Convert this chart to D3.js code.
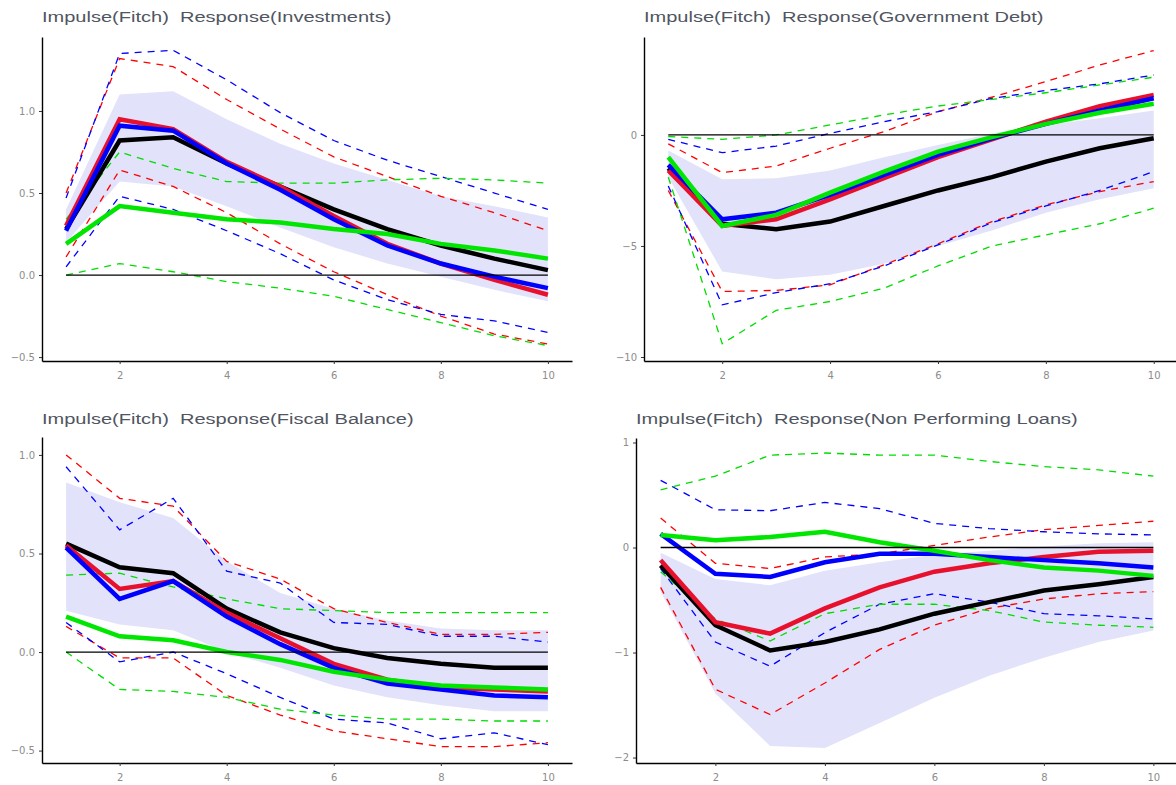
<!DOCTYPE html>
<html>
<head>
<meta charset="utf-8">
<script src="https://cdn.jsdelivr.net/npm/d3@7/dist/d3.min.js"></script>
<style>
  body { margin: 0; background: #fff; }
  svg { display: block; }
  .title { font-family: "Liberation Sans", Arial, sans-serif; font-size: 14px; fill: #50555f; white-space: pre; }
  .axis text { font-family: "DejaVu Sans", sans-serif; font-size: 10px; fill: #8c8c8c; }
  .axis path.domain { stroke: #000; stroke-width: 1.4; }
  .axis line { stroke: #333; stroke-width: 1; }
</style>
</head>
<body>
<div id="chart"></div>
<script>

// horizon (periods after the shock)
var horizon = [1, 2, 3, 4, 5, 6, 7, 8, 9, 10];
var xTicks  = [2, 4, 6, 8, 10];

// --- Investments
var invBlack   = [0.28, 0.82, 0.84, 0.68, 0.54, 0.40, 0.28, 0.18, 0.10, 0.03];
var invRed     = [0.30, 0.95, 0.89, 0.69, 0.54, 0.36, 0.19, 0.07, -0.03, -0.12];
var invBlue    = [0.27, 0.91, 0.88, 0.68, 0.52, 0.34, 0.18, 0.07, -0.01, -0.08];
var invGreen   = [0.19, 0.42, 0.38, 0.34, 0.32, 0.28, 0.25, 0.19, 0.15, 0.10];
var invBandHi  = [0.40, 1.10, 1.12, 0.95, 0.80, 0.68, 0.58, 0.48, 0.42, 0.35];
var invBandLo  = [0.20, 0.57, 0.54, 0.42, 0.29, 0.17, 0.07, -0.01, -0.09, -0.16];
var invRedHi   = [0.50, 1.32, 1.27, 1.07, 0.89, 0.72, 0.60, 0.48, 0.38, 0.27];
var invRedLo   = [0.11, 0.64, 0.54, 0.38, 0.19, 0.02, -0.12, -0.25, -0.36, -0.42];
var invBlueHi  = [0.47, 1.35, 1.37, 1.19, 0.99, 0.82, 0.70, 0.60, 0.50, 0.40];
var invBlueLo  = [0.05, 0.48, 0.40, 0.27, 0.13, -0.03, -0.15, -0.24, -0.28, -0.35];
var invGreenHi = [0.34, 0.75, 0.65, 0.57, 0.56, 0.56, 0.58, 0.59, 0.58, 0.56];
var invGreenLo = [0.00, 0.07, 0.02, -0.04, -0.08, -0.13, -0.21, -0.29, -0.37, -0.43];
var invTicks   = [-0.5, 0, 0.5, 1];

// --- Government Debt
var debtBlack   = [-1.5, -4.0, -4.25, -3.9, -3.2, -2.5, -1.9, -1.2, -0.6, -0.15];
var debtRed     = [-1.6, -4.1, -3.8, -2.9, -1.95, -1.0, -0.2, 0.6, 1.3, 1.8];
var debtBlue    = [-1.35, -3.8, -3.5, -2.7, -1.8, -0.9, -0.15, 0.5, 1.1, 1.65];
var debtGreen   = [-1.0, -4.1, -3.6, -2.6, -1.65, -0.75, -0.1, 0.5, 1.0, 1.4];
var debtBandHi  = [-0.7, -2.0, -1.95, -1.6, -1.0, -0.45, 0.07, 0.45, 0.75, 1.1];
var debtBandLo  = [-1.9, -6.15, -6.5, -6.3, -5.8, -5.0, -4.3, -3.5, -2.9, -2.4];
var debtRedHi   = [-0.4, -1.7, -1.4, -0.6, 0.15, 1.05, 1.7, 2.4, 3.15, 3.8];
var debtRedLo   = [-2.5, -7.05, -7.0, -6.75, -5.85, -4.9, -3.9, -3.15, -2.55, -2.1];
var debtBlueHi  = [-0.2, -0.8, -0.5, 0.07, 0.6, 1.05, 1.65, 2.0, 2.3, 2.7];
var debtBlueLo  = [-2.3, -7.65, -7.1, -6.7, -5.9, -4.95, -3.95, -3.2, -2.5, -1.65];
var debtGreenHi = [-0.07, -0.2, 0.0, 0.45, 0.9, 1.3, 1.6, 1.9, 2.25, 2.6];
var debtGreenLo = [-1.9, -9.4, -7.9, -7.5, -6.9, -5.9, -5.0, -4.5, -4.0, -3.3];
var debtTicks   = [-10, -5, 0];

// --- Fiscal Balance
var fiscBlack   = [0.55, 0.43, 0.40, 0.22, 0.10, 0.02, -0.03, -0.06, -0.08, -0.08];
var fiscRed     = [0.54, 0.32, 0.36, 0.20, 0.07, -0.06, -0.14, -0.18, -0.19, -0.20];
var fiscBlue    = [0.53, 0.27, 0.36, 0.18, 0.04, -0.08, -0.16, -0.19, -0.22, -0.23];
var fiscGreen   = [0.18, 0.08, 0.06, 0.00, -0.04, -0.10, -0.14, -0.17, -0.18, -0.19];
var fiscBandHi  = [0.86, 0.76, 0.68, 0.46, 0.30, 0.22, 0.16, 0.12, 0.11, 0.11];
var fiscBandLo  = [0.21, 0.14, 0.11, 0.00, -0.08, -0.17, -0.23, -0.27, -0.30, -0.30];
var fiscRedHi   = [1.00, 0.78, 0.74, 0.46, 0.37, 0.22, 0.15, 0.09, 0.09, 0.10];
var fiscRedLo   = [0.13, -0.03, -0.03, -0.22, -0.32, -0.40, -0.44, -0.48, -0.48, -0.46];
var fiscBlueHi  = [0.94, 0.62, 0.78, 0.41, 0.35, 0.15, 0.14, 0.08, 0.08, 0.05];
var fiscBlueLo  = [0.15, -0.05, 0.00, -0.11, -0.23, -0.34, -0.36, -0.44, -0.41, -0.47];
var fiscGreenHi = [0.39, 0.40, 0.33, 0.27, 0.22, 0.21, 0.20, 0.20, 0.20, 0.20];
var fiscGreenLo = [0.00, -0.19, -0.20, -0.23, -0.29, -0.32, -0.34, -0.34, -0.35, -0.35];
var fiscTicks   = [-0.5, 0, 0.5, 1];

// --- Non Performing Loans
var nplBlack   = [-0.17, -0.74, -0.98, -0.90, -0.78, -0.63, -0.52, -0.41, -0.35, -0.28];
var nplRed     = [-0.12, -0.71, -0.82, -0.58, -0.38, -0.23, -0.15, -0.09, -0.04, -0.03];
var nplBlue    = [0.13, -0.25, -0.28, -0.14, -0.06, -0.06, -0.09, -0.12, -0.15, -0.19];
var nplGreen   = [0.12, 0.07, 0.10, 0.15, 0.05, -0.03, -0.12, -0.19, -0.22, -0.27];
var nplBandHi  = [-0.05, -0.30, -0.36, -0.22, -0.14, -0.07, -0.03, 0.01, 0.04, 0.05];
var nplBandLo  = [-0.42, -1.39, -1.89, -1.91, -1.67, -1.43, -1.22, -1.05, -0.90, -0.79];
var nplRedHi   = [0.28, -0.15, -0.20, -0.09, -0.06, 0.02, 0.10, 0.17, 0.21, 0.25];
var nplRedLo   = [-0.38, -1.35, -1.59, -1.29, -0.97, -0.74, -0.58, -0.49, -0.44, -0.42];
var nplBlueHi  = [0.64, 0.36, 0.35, 0.43, 0.37, 0.23, 0.18, 0.15, 0.13, 0.12];
var nplBlueLo  = [-0.20, -0.90, -1.13, -0.81, -0.54, -0.44, -0.52, -0.63, -0.65, -0.68];
var nplGreenHi = [0.55, 0.68, 0.88, 0.90, 0.88, 0.88, 0.82, 0.77, 0.74, 0.68];
var nplGreenLo = [-0.23, -0.68, -0.89, -0.63, -0.54, -0.54, -0.60, -0.71, -0.74, -0.76];
var nplTicks   = [-2, -1, 0, 1];

var titles = [
  "Impulse(Fitch)  Response(Investments)",
  "Impulse(Fitch)  Response(Government Debt)",
  "Impulse(Fitch)  Response(Fiscal Balance)",
  "Impulse(Fitch)  Response(Non Performing Loans)"
];

// colours
var bandColor = "#e2e2fa";
var solidColors  = {black: "#000000", red: "#e8112d", blue: "#0000ff", green: "#00e600"};
var dashedColors = {red: "#ff0000", blue: "#0000ff", green: "#00dd00"};

var width = 1176, height = 785;

var svg = d3.select("#chart").append("svg")
  .attr("width", width)
  .attr("height", height);

// panel layout (pixel box + y domain + tick format)
var panels = [
  {title: titles[0], left: 42,  right: 572,  top: 37,  bottom: 361, yDom: [-0.524, 1.451], ticks: invTicks, fmt: d3.format(".1f"), titleY: 22,
   band: [invBandLo, invBandHi], solid: {black: invBlack, red: invRed, blue: invBlue, green: invGreen},
   dashed: {red: [invRedHi, invRedLo], blue: [invBlueHi, invBlueLo], green: [invGreenHi, invGreenLo]}},
  {title: titles[1], left: 644, right: 1178, top: 37,  bottom: 361, yDom: [-10.18, 4.41], ticks: debtTicks, fmt: d3.format("d"), titleY: 22,
   band: [debtBandLo, debtBandHi], solid: {black: debtBlack, red: debtRed, blue: debtBlue, green: debtGreen},
   dashed: {red: [debtRedHi, debtRedLo], blue: [debtBlueHi, debtBlueLo], green: [debtGreenHi, debtGreenLo]}},
  {title: titles[2], left: 42,  right: 572,  top: 437, bottom: 763, yDom: [-0.563, 1.091], ticks: fiscTicks, fmt: d3.format(".1f"), titleY: 424,
   band: [fiscBandLo, fiscBandHi], solid: {black: fiscBlack, red: fiscRed, blue: fiscBlue, green: fiscGreen},
   dashed: {red: [fiscRedHi, fiscRedLo], blue: [fiscBlueHi, fiscBlueLo], green: [fiscGreenHi, fiscGreenLo]}},
  {title: titles[3], left: 636, right: 1178, top: 438, bottom: 763, yDom: [-2.052, 1.043], ticks: nplTicks, fmt: d3.format("d"), titleY: 424,
   band: [nplBandLo, nplBandHi], solid: {black: nplBlack, red: nplRed, blue: nplBlue, green: nplGreen},
   dashed: {red: [nplRedHi, nplRedLo], blue: [nplBlueHi, nplBlueLo], green: [nplGreenHi, nplGreenLo]}}
];

panels.forEach(function(p) { drawPanel(p); });

function drawPanel(p) {
  var g = svg.append("g");

  var x = d3.scaleLinear().domain([0.55, 10.45]).range([p.left, p.right]);
  var y = d3.scaleLinear().domain(p.yDom).range([p.bottom, p.top]);

  // confidence band
  var area = d3.area()
    .x(function(d, i) { return x(horizon[i]); })
    .y0(function(d) { return y(d[0]); })
    .y1(function(d) { return y(d[1]); });

  g.append("path")
    .datum(p.band[0].map(function(v, i) { return [v, p.band[1][i]]; }))
    .attr("d", area)
    .attr("fill", bandColor);

  var line = d3.line()
    .x(function(d, i) { return x(horizon[i]); })
    .y(function(d) { return y(d); });

  // dashed bounds
  ["red", "blue", "green"].forEach(function(c) {
    p.dashed[c].forEach(function(series) {
      g.append("path")
        .attr("d", line(series))
        .attr("fill", "none")
        .attr("stroke", dashedColors[c])
        .attr("stroke-width", 1.3)
        .attr("stroke-dasharray", "7,6");
    });
  });

  // responses
  ["black", "red", "blue", "green"].forEach(function(c) {
    g.append("path")
      .attr("d", line(p.solid[c]))
      .attr("fill", "none")
      .attr("stroke", solidColors[c])
      .attr("stroke-width", 4.5)
      .attr("stroke-linejoin", "miter");
  });

  // zero line (sits on top of the responses)
  g.append("line")
    .attr("x1", x(horizon[0])).attr("x2", x(horizon[horizon.length - 1]))
    .attr("y1", y(0)).attr("y2", y(0))
    .attr("stroke", "#000")
    .attr("stroke-width", 1.3);

  // axes
  g.append("g")
    .attr("class", "axis")
    .attr("transform", "translate(0," + p.bottom + ")")
    .call(d3.axisBottom(x).tickValues(xTicks).tickSize(3).tickSizeOuter(0).tickPadding(8));

  g.append("g")
    .attr("class", "axis")
    .attr("transform", "translate(" + p.left + ",0)")
    .call(d3.axisLeft(y).tickValues(p.ticks).tickFormat(p.fmt).tickSize(3).tickSizeOuter(0).tickPadding(4));

  // title, stretched like the original
  var t = g.append("text")
    .attr("class", "title")
    .attr("x", p.left)
    .attr("y", p.titleY)
    .text(p.title);
  var w = t.node().getComputedTextLength();
  t.attr("textLength", w * 1.43).attr("lengthAdjust", "spacingAndGlyphs");
}

</script>
</body>
</html>
